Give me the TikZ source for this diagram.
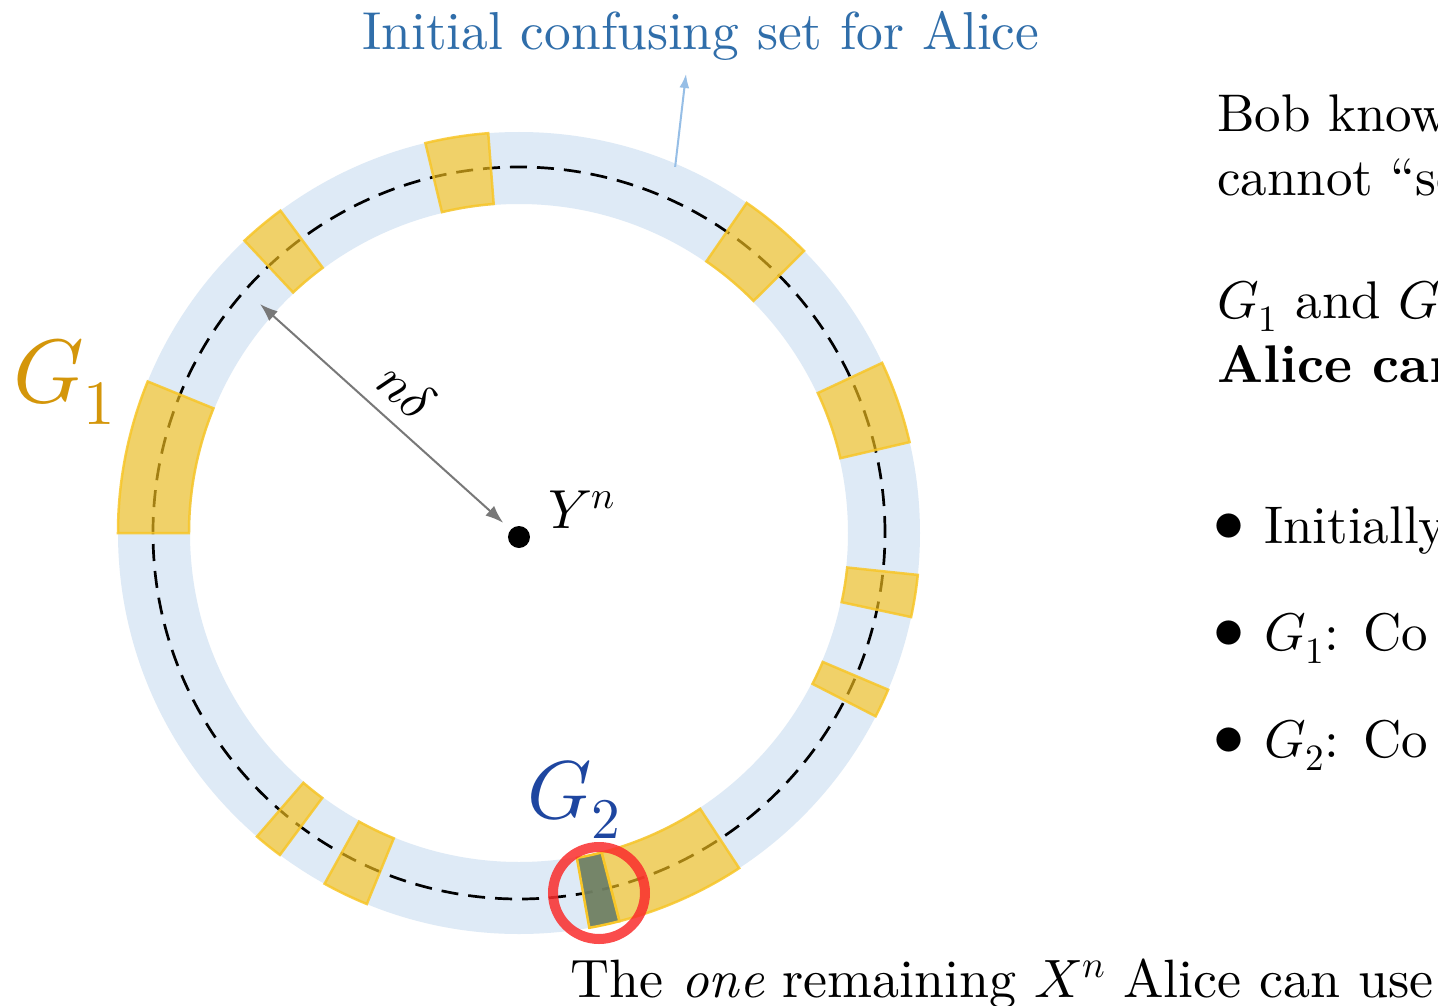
\documentclass[tikz,border=0pt]{standalone}
\usepackage{unicode-math}
\setmainfont{lmroman10}[Extension=.otf, UprightFont=*-regular, BoldFont=*-bold, ItalicFont=*-italic, BoldItalicFont=*-bolditalic]
\setmathfont{Latin Modern Math}
\usetikzlibrary{arrows.meta}
\definecolor{ringblue}{RGB}{222,234,246}
\definecolor{yfill}{RGB}{250,196,30}
\definecolor{yline}{RGB}{248,198,40}
\definecolor{gfill}{RGB}{112,128,98}
\definecolor{redc}{RGB}{250,45,45}
\definecolor{gonecol}{RGB}{212,150,10}
\definecolor{gtwocol}{RGB}{30,70,160}
\definecolor{topblue}{RGB}{48,110,170}
\definecolor{arrblue}{RGB}{150,190,230}
\definecolor{arrgray}{RGB}{120,120,120}
\tikzset{
  txt/.style={font=\fontsize{53}{64}\selectfont, inner sep=0pt, anchor=base west},
  yseg/.style={fill=yfill, fill opacity=0.65, draw=yline, draw opacity=0.85, line width=2.5pt, line join=miter},
  gseg/.style={fill=gfill, fill opacity=0.95, draw=yline, line width=2.5pt},
}
\newcommand\ringsec[3][yseg]{\path[#1] (#2:330) arc[start angle=#2,end angle=#3,radius=330] -- (#3:401) arc[start angle=#3,end angle=#2,radius=401] -- cycle;}
\newcommand\bul{\makebox[51pt][l]{\raisebox{2pt}{\fontsize{62}{64}\selectfont$\bullet$}}}
\begin{document}
\begin{tikzpicture}[x=1pt,y=1pt]
\clip (-519,-472) rectangle (919,533);
\fill[white] (-519,-472) rectangle (919,533);
% ring
\draw[ringblue, line width=72pt] (0,0) circle[radius=365];
\draw[black, line width=2.7pt, dash pattern=on 17pt off 10pt] (0,0) circle[radius=366];
% yellow segments
\ringsec{94.4}{103.5}
\ringsec{126.5}{133.2}
\ringsec{44.7}{55.4}
\ringsec{13.1}{25.1}
\ringsec{-12.1}{-6.0}
\ringsec{-27.2}{-23.0}
\ringsec{157.8}{180}
\ringsec{229.2}{233.4}
\ringsec{241}{247.7}
\ringsec{-75.5}{-56.7}
\ringsec[gseg]{-79.9}{-75.5}
% red circle
\node[draw=redc, draw opacity=0.85, line width=10pt, circle, minimum size=92pt, inner sep=0pt] (sel) at (80,-360) {};
% centre
\node[circle, fill=black, minimum size=22pt, inner sep=0pt] (Ydot) at (0,-4) {};
\node[txt, font=\fontsize{55}{64}\selectfont] (Ylab) at (29,5) {$Y^n$};
\coordinate (ndtip) at (-259,229);
\draw[arrgray, line width=2pt, {Latex[length=18pt,width=13pt]}-{Latex[length=18pt,width=13pt]}, shorten >=10pt] (ndtip) -- (Ydot);
\node[font=\fontsize{53}{64}\selectfont, rotate=-42, inner sep=0pt] (nd) at (-112,142) {$n\delta$};
% labels
\node[txt, font=\fontsize{90}{100}\selectfont, text=gonecol] (G1) at (-506,131) {$G_1$};
\node[txt, font=\fontsize{82}{96}\selectfont, text=gtwocol] (G2) at (8,-285) {$G_2$};
\node[txt, font=\fontsize{53.4}{64}\selectfont, text=topblue] (top) at (-157,483) {Initial confusing set for Alice};
\coordinate (ringpt) at (66.9:398);
\coordinate (toptip) at (167,459);
\draw[arrblue, line width=2pt, -{Latex[length=14pt,width=10pt]}] (ringpt) -- (toptip);
% right text
\node[txt] (r1) at (698,401) {Bob knows};
\node[txt] (r2) at (698,338) {cannot ``se};
\node[txt] (r3) at (698,215) {$G_1$ and $G_2$};
\node[txt] (r4) at (698,151) {\textbf{Alice cann}};
\node[txt] (b1) at (694,-10) {\bul Initially};
\node[txt] (b2) at (694,-117) {\bul $G_1$: Co};
\node[txt] (b3) at (694,-224) {\bul $G_2$: Co};
\node[txt, font=\fontsize{54}{64}\selectfont] (bottom) at (51,-464) {The \emph{one} remaining $X^n$ Alice can use};
\end{tikzpicture}
\end{document}
